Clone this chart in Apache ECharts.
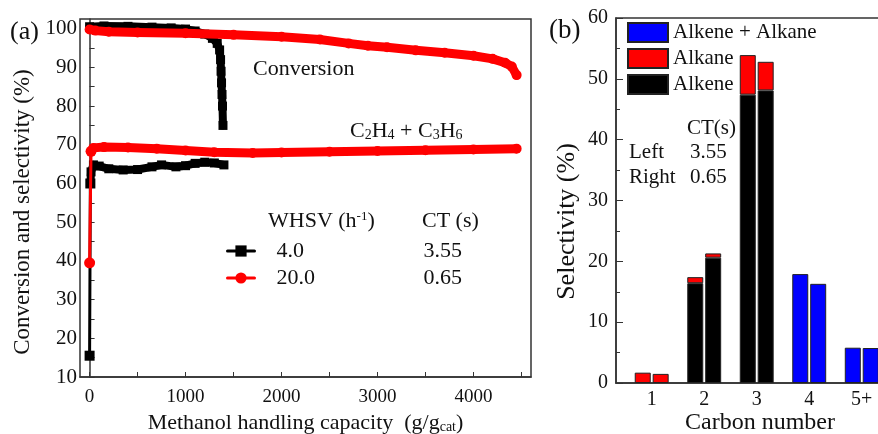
<!DOCTYPE html>
<html>
<head>
<meta charset="utf-8">
<script src="https://cdn.jsdelivr.net/npm/echarts@6/dist/echarts.min.js"></script>
<style>
html, body { margin: 0; padding: 0; background: #fff; }
#chart { width: 878px; height: 434px; }
</style>
</head>
<body>
<div id="chart"></div>
<script>
// (a) conversion and selectivity vs methanol handling capacity
var blackStart = [[0, 15.5], [8, 60]];
var blackConv = [[0, 100.5], [150, 100.7], [400, 100.6], [650, 100.4], [850, 100.2], [1000, 99.9], [1100, 99.4], [1200, 98.6], [1280, 97.5], [1330, 96.2], [1355, 94.5], [1365, 92], [1370, 89], [1375, 86], [1380, 83], [1385, 80], [1390, 75]];
var blackSel = [[8, 60], [15, 63], [40, 64.8], [100, 64.5], [200, 63.8], [350, 63.5], [500, 63.6], [650, 64.3], [750, 64.8], [900, 64.3], [1000, 64.6], [1100, 65.2], [1200, 65.5], [1300, 65.3], [1400, 64.8]];
var redStart = [[0, 39.5], [15, 68.3]];
var redConv = [[0, 99.8], [60, 99.5], [200, 99.2], [500, 99.0], [1000, 98.8], [1500, 98.4], [2000, 97.9], [2400, 97.2], [2700, 96.2], [2900, 95.6], [3100, 95.2], [3400, 94.4], [3700, 93.8], [4000, 93.0], [4200, 92.2], [4330, 91.2], [4400, 90.2], [4450, 88]];
var redSel = [[15, 68.3], [40, 69.2], [150, 69.4], [400, 69.3], [700, 69], [1000, 68.5], [1300, 68.1], [1700, 67.9], [2000, 68], [2500, 68.2], [3000, 68.4], [3500, 68.6], [4000, 68.8], [4450, 69]];
var whsvNames = ['4.0', '20.0'];
var ctValues = ['3.55', '0.65'];
var capLabels = [0, 1000, 2000, 3000, 4000];
var capTicks = [0, 500, 1000, 1500, 2000, 2500, 3000, 3500, 4000, 4500];
var pctLabels = [10, 20, 30, 40, 50, 60, 70, 80, 90, 100];
var pctTicks = [10, 15, 20, 25, 30, 35, 40, 45, 50, 55, 60, 65, 70, 75, 80, 85, 90, 95, 100];

// (b) selectivity by carbon number
var carbonLabels = ['1', '2', '3', '4', '5+'];
var carbonPos = [1, 2, 3, 4, 5];
var alkeneLeft = ['-', 16.4, 47.4, '-', '-'];
var alkaneLeft = [1.7, 1.0, 6.5, '-', '-'];
var mixLeft = ['-', '-', '-', 17.9, 5.8];
var alkeneRight = ['-', 20.6, 48.1, '-', '-'];
var alkaneRight = [1.5, 0.7, 4.7, '-', '-'];
var mixRight = ['-', '-', '-', 16.3, 5.75];

var FONT = '"Liberation Serif", "Times New Roman", serif';
var chart = echarts.init(document.getElementById('chart'));

// value first so that the stack runs on selectivity, not on carbon number
function pairs(vals) {
	return carbonPos.map(function (c, i) { return [vals[i], c]; });
}

function lineSeries(name, data, color, symbol, size, width, z) {
	return {
		name: name, type: 'line', xAxisIndex: 0, yAxisIndex: 0,
		data: data, symbol: symbol, symbolSize: size, showAllSymbol: true,
		lineStyle: { color: color, width: width, cap: 'round', join: 'round' },
		itemStyle: { color: color },
		z: z
	};
}

function barSeries(name, vals, color, stack) {
	return {
		name: name, type: 'bar', xAxisIndex: 1, yAxisIndex: 1,
		stack: stack, data: pairs(vals), encode: { x: 1, y: 0 },
		barWidth: 16, barGap: '12%',
		itemStyle: { color: color, borderColor: '#222', borderWidth: 1 }
	};
}

function txt(text, x, y, size, extra) {
	var o = {
		type: 'text', x: x, y: y,
		style: { text: text, font: size + 'px ' + FONT, fill: '#111', textAlign: 'left', textVerticalAlign: 'middle' }
	};
	if (extra) {
		for (var k in extra) o.style[k] = extra[k];
	}
	return o;
}

var axisLine = { lineStyle: { color: '#333', width: 1.5 } };

var option = {
	animation: false,
	grid: [
		{ left: 80, top: 19, width: 451, bottom: 57, show: true, borderColor: '#333', borderWidth: 1.5, outerBoundsMode: 'none' },
		{ left: 616, top: 18, width: 272, bottom: 51, show: true, borderColor: '#333', borderWidth: 1.5, outerBoundsMode: 'none' }
	],
	xAxis: [{
		gridIndex: 0, type: 'value', min: -100, max: 4600,
		name: 'Methanol handling capacity  (g/g{sub|cat})',
		nameLocation: 'middle', nameGap: 34,
		nameTextStyle: { fontFamily: FONT, fontSize: 22, color: '#111', rich: { sub: { fontFamily: FONT, fontSize: 14, verticalAlign: 'bottom', color: '#111' } } },
		axisLine: axisLine,
		axisTick: { inside: true, length: 5, customValues: capTicks, lineStyle: { color: '#333' } },
		axisLabel: {
			customValues: capLabels, fontFamily: FONT, fontSize: 19, color: '#111', margin: 11,
			formatter: function (v) { return String(v); }
		},
		splitLine: { show: false }
	}, {
		gridIndex: 1, type: 'value', min: 0.32, max: 5.5,
		name: 'Carbon number', nameLocation: 'middle', nameGap: 28, nameMoveOverlap: false,
		nameTextStyle: { fontFamily: FONT, fontSize: 24, color: '#111', padding: [0, 0, 0, 16] },
		axisLine: axisLine,
		axisTick: { show: false },
		axisLabel: {
			customValues: carbonPos, fontFamily: FONT, fontSize: 20, color: '#111', margin: 7,
			formatter: function (v) { return carbonLabels[carbonPos.indexOf(v)]; }
		},
		splitLine: { show: false }
	}],
	yAxis: [{
		gridIndex: 0, type: 'value', min: 10, max: 102.5,
		name: 'Conversion and selectivity (%)', nameLocation: 'middle', nameGap: 37,
		nameTextStyle: { fontFamily: FONT, fontSize: 23, color: '#111', padding: [0, 28, 0, 0] },
		axisLine: axisLine,
		axisTick: { inside: true, length: 5, customValues: pctTicks, lineStyle: { color: '#333' } },
		axisLabel: { customValues: pctLabels, fontFamily: FONT, fontSize: 21, color: '#111', margin: 3 },
		splitLine: { show: false }
	}, {
		gridIndex: 1, type: 'value', min: 0, max: 60, interval: 10,
		name: 'Selectivity (%)', nameLocation: 'middle', nameGap: 36,
		nameTextStyle: { fontFamily: FONT, fontSize: 26, color: '#111', padding: [0, 42, 0, 0] },
		axisLine: axisLine,
		axisTick: { inside: true, length: 7, lineStyle: { color: '#333' } },
		minorTick: { show: true, splitNumber: 2, length: 4, lineStyle: { color: '#333' } },
		axisLabel: { fontFamily: FONT, fontSize: 20, color: '#111', margin: 8 },
		splitLine: { show: false }
	}],
	legend: [{
		data: whsvNames, orient: 'vertical', left: 226, top: 240, padding: 0,
		itemWidth: 27, itemHeight: 14, itemGap: 5,
		lineStyle: { width: 3 },
		formatter: function (name) {
			return '{n|' + name + '}{c|' + ctValues[whsvNames.indexOf(name)] + '}';
		},
		textStyle: {
			fontFamily: FONT, fontSize: 22, color: '#111',
			rich: {
				n: { fontFamily: FONT, fontSize: 22, color: '#111', width: 147, padding: [0, 0, 0, 17] },
				c: { fontFamily: FONT, fontSize: 22, color: '#111' }
			}
		}
	}, {
		data: ['Alkene + Alkane', 'Alkane', 'Alkene'], orient: 'vertical', left: 627, top: 22, padding: 0,
		icon: 'rect', itemWidth: 40, itemHeight: 19, itemGap: 5,
		textStyle: { fontFamily: FONT, fontSize: 21, color: '#111' }
	}],
	graphic: [
		txt('(a)', 10, 32, 26),
		txt('(b)', 549, 31, 27),
		txt('Conversion', 253, 69, 22),
		txt('C{s|2}H{s|4} + C{s|3}H{s|6}', 350, 131, 22, { rich: { s: { font: '14px ' + FONT, verticalAlign: 'bottom', fill: '#111' } } }),
		txt('WHSV (h{p|-1})', 268, 221, 22, { rich: { p: { font: '13px ' + FONT, verticalAlign: 'top', fill: '#111' } } }),
		txt('CT (s)', 422, 221, 22),
		txt('CT(s)', 687, 128, 21),
		txt('Left', 629, 152, 21),
		txt(ctValues[0], 690, 152, 21),
		txt('Right', 629, 177, 21),
		txt(ctValues[1], 690, 177, 21)
	],
	series: [
		lineSeries(whsvNames[0], blackStart, '#000', 'rect', 10, 3, 3),
		lineSeries(whsvNames[1], redStart, '#ff0000', 'circle', 11, 3, 4),
		lineSeries(whsvNames[0], blackConv, '#000', 'rect', 9, 8, 3),
		lineSeries(whsvNames[0], blackSel, '#000', 'rect', 9, 8, 3),
		lineSeries(whsvNames[1], redConv, '#ff0000', 'circle', 10, 9, 4),
		lineSeries(whsvNames[1], redSel, '#ff0000', 'circle', 10, 9, 4),
		barSeries('Alkene', alkeneLeft, '#000', 'L'),
		barSeries('Alkane', alkaneLeft, '#ff0000', 'L'),
		barSeries('Alkene + Alkane', mixLeft, '#0000ff', 'L'),
		barSeries('Alkene', alkeneRight, '#000', 'R'),
		barSeries('Alkane', alkaneRight, '#ff0000', 'R'),
		barSeries('Alkene + Alkane', mixRight, '#0000ff', 'R')
	]
};
chart.setOption(option);
</script>
</body>
</html>
